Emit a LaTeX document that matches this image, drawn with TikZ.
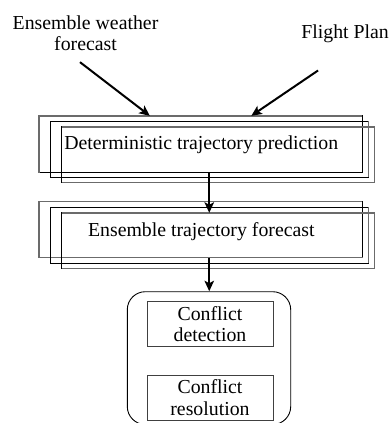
\documentclass[tikz,border=0pt]{standalone}
\usepackage{fontspec}
\setmainfont{Liberation Serif}
\usetikzlibrary{arrows.meta,calc}
\newcommand\edgebox[5]{%
 \draw[#2] (#1.north west) -- (#1.north east);
 \draw[#3] (#1.north east) -- (#1.south east);
 \draw[#4] (#1.south east) -- (#1.south west);
 \draw[#5] (#1.south west) -- (#1.north west);}
\begin{document}
\begin{tikzpicture}[x=1pt,y=-1pt,
  lbl/.style={inner sep=0pt, font=\fontsize{19.8pt}{21pt}\selectfont},
  frame/.style={inner sep=0pt, draw=none},
  ge/.style={draw=black!58, line width=1.4pt, line cap=rect},
  be/.style={draw=black, line width=0.9pt, line cap=rect},
  arr/.style={line width=2pt, -{Stealth[length=10.5pt,width=9.5pt,inset=2.5pt]}},
  inbox/.style={draw=black!75, line width=1pt, minimum width=126pt, minimum height=45pt, inner sep=0pt, align=center, font=\fontsize{19.8pt}{21.5pt}\selectfont},
  group/.style={draw=black, line width=0.9pt, rounded corners=18pt, inner sep=0pt}
]
\useasboundingbox (0,0) rectangle (390,423);

% texts at the top
\node[lbl, align=center] (ewf) at (85.5,33.5) {Ensemble weather\\forecast};
\node[lbl, anchor=base east] (fp) at (389,38) {Flight Plan};

% first stack
\node[frame, minimum width=323pt, minimum height=56pt] (d1a) at (200.5,144) {};
\node[frame, minimum width=317.5pt, minimum height=55.5pt] (d1b) at (209.25,149.25) {};
\node[frame, minimum width=312pt, minimum height=55.5pt] (d1c) at (218,154.75) {};
\edgebox{d1a}{ge}{be}{be}{ge}
\edgebox{d1b}{be}{ge}{be}{be}
\edgebox{d1c}{ge}{ge}{ge}{be}
\node[lbl, anchor=base] (dettext) at (201.2,149.3) {Deterministic trajectory prediction};

% second stack
\node[frame, minimum width=323pt, minimum height=56pt] (d2a) at (200.5,229.5) {};
\node[frame, minimum width=317.5pt, minimum height=56pt] (d2b) at (209.25,235.5) {};
\node[frame, minimum width=312pt, minimum height=55.5pt] (d2c) at (218,240.75) {};
\edgebox{d2a}{ge}{be}{ge}{ge}
\edgebox{d2b}{be}{ge}{be}{be}
\edgebox{d2c}{ge}{ge}{ge}{be}
\node[lbl, anchor=base] (enstext) at (201.3,236.7) {Ensemble trajectory forecast};

% conflict group
\node[group, minimum width=163.4pt, minimum height=132.8pt] (conf) at (209,358.1) {};
\node[inbox] (cd) at (210,324.2) {Conflict\\detection};
\node[inbox] (cr) at (210,397.5) {Conflict\\resolution};

% arrows
\draw[arr] ([shift={(-5.5,11)}]ewf.south) -- ([shift={(111,0)}]d1a.north west);
\draw[arr] ([shift={(-27,28)}]fp.south) -- ([shift={(212.5,0)}]d1a.north west);
\draw[arr] (d1b.south |- d1a.south) -- (d1b.south |- d2c.north);
\draw[arr] (d2b.south |- d2a.south) -- (d2b.south |- conf.north);
\end{tikzpicture}
\end{document}
